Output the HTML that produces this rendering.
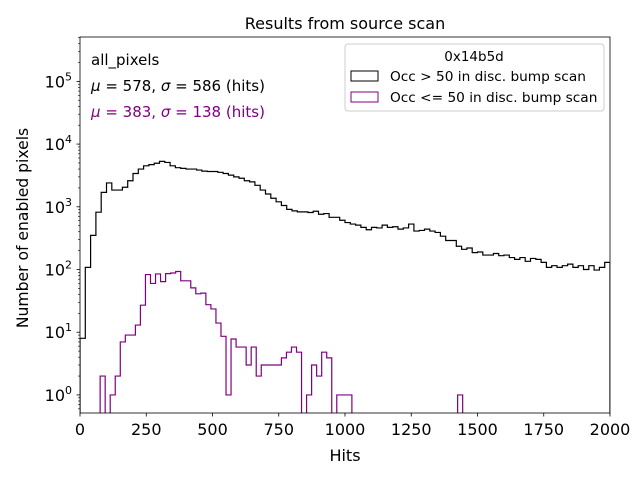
<!DOCTYPE html>
<html><head><meta charset="utf-8"><style>
body{margin:0;background:#fff;}
svg{font-family:"DejaVu Sans","Liberation Sans",sans-serif;}
</style></head><body>
<svg id="chart" width="640" height="480" xmlns="http://www.w3.org/2000/svg">
<defs><clipPath id="plotclip"><rect x="80" y="37" width="530" height="376"/></clipPath></defs>
<text x="345" y="29" text-anchor="middle" font-size="16">Results from source scan</text>
<g id="series" clip-path="url(#plotclip)"></g>
<g id="axes"></g>
<text x="345" y="461" text-anchor="middle" font-size="16">Hits</text>
<text transform="translate(28,228) rotate(-90)" text-anchor="middle" font-size="15.6">Number of enabled pixels</text>
<text x="91" y="65" font-size="15">all_pixels</text>
<text x="91" y="91" font-size="15"><tspan font-style="italic">μ</tspan> = 578, <tspan font-style="italic">σ</tspan> = 586 (hits)</text>
<text x="91" y="117" font-size="15" fill="#800080"><tspan font-style="italic">μ</tspan> = 383, <tspan font-style="italic">σ</tspan> = 138 (hits)</text>
<g>
<rect x="345" y="44" width="259" height="67" rx="3" fill="#fff" stroke="#ccc"/>
<text x="474" y="61" text-anchor="middle" font-size="13.5">0x14b5d</text>
<rect x="351" y="71" width="27" height="10" fill="none" stroke="#000"/>
<text x="390" y="81" font-size="13.7">Occ &gt; 50 in disc. bump scan</text>
<rect x="351" y="92" width="27" height="10" fill="none" stroke="#800080"/>
<text x="390" y="102" font-size="13.7">Occ &lt;= 50 in disc. bump scan</text>
</g>
</svg>
<script>
const xTicks = [0,250,500,750,1000,1250,1500,1750,2000];
const yTickExps = [0,1,2,3,4,5];
const binWidthHigh = 20;
const countsHigh = [8,108,350,820,1700,2400,1850,1850,2050,2600,3400,4000,4500,4700,4950,5300,5100,4500,4200,4100,4000,4000,3850,3700,3650,3650,3550,3400,3200,3000,2850,2600,2500,2200,1850,1600,1370,1200,1050,910,860,830,830,810,850,760,780,680,680,610,560,530,510,470,430,470,460,510,470,480,440,460,530,410,420,440,410,390,340,290,290,235,210,220,186,190,170,170,180,166,170,155,145,155,135,150,145,130,108,115,108,115,122,108,115,100,115,98,108,130];
const binWidthLow = 19;
const countsLow = [0,0,0,0,2,0,1,2,7,9,9,13,27,83,60,85,64,86,88,93,66,66,51,41,42,27.5,23.5,14,8.6,1,7.8,5.8,5.8,3,5.8,2,3,3,3,3,3.9,4.8,5.8,4.8,0,1,3,2,4.8,3.9,0,1,1,1,0,0,0,0,0,0,0,0,0,0,0,0,0,0,0,0,0,0,0,0,0,1,0];
const X0=80,X1=610,Y0=37,Y1=413, yMin=Math.log10(0.515), yMax=Math.log10(510000);
const xs=v=>X0+(v/2000)*(X1-X0);
const ys=v=>{ if(v<=0) return Y1+20; return Y1-(Math.log10(v)-yMin)/(yMax-yMin)*(Y1-Y0); };
const NS="http://www.w3.org/2000/svg";
function stepPath(counts,w){
  let d="M"+xs(0)+","+(Y1+20);
  counts.forEach((c,i)=>{const y=ys(c);d+=" L"+xs(i*w)+","+y+" L"+xs((i+1)*w)+","+y;});
  d+=" L"+xs(counts.length*w)+","+(Y1+20);
  return d;
}
const sg=document.getElementById("series");
const p1=document.createElementNS(NS,"path");
p1.setAttribute("d",stepPath(countsHigh,binWidthHigh));
p1.setAttribute("fill","none");p1.setAttribute("stroke","#000");p1.setAttribute("stroke-width","1.2");


sg.appendChild(p1);
const p2=document.createElementNS(NS,"path");
p2.setAttribute("d",stepPath(countsLow,binWidthLow));
p2.setAttribute("fill","none");p2.setAttribute("stroke","#800080");p2.setAttribute("stroke-width","1.2");


sg.appendChild(p2);
const ax=document.getElementById("axes");
function line(x1,y1,x2,y2,w){const l=document.createElementNS(NS,"line");l.setAttribute("x1",x1);l.setAttribute("y1",y1);l.setAttribute("x2",x2);l.setAttribute("y2",y2);l.setAttribute("stroke","#000");l.setAttribute("stroke-width",w||0.8);ax.appendChild(l);return l;}
const frame=document.createElementNS(NS,"rect");
frame.setAttribute("x",X0);frame.setAttribute("y",Y0);frame.setAttribute("width",X1-X0);frame.setAttribute("height",Y1-Y0);
frame.setAttribute("fill","none");frame.setAttribute("stroke","#000");frame.setAttribute("stroke-width","0.8");


ax.appendChild(frame);
xTicks.forEach(t=>{
  const tk=line(xs(t),Y1,xs(t),Y1+3.5);
  
  
  const tx=document.createElementNS(NS,"text");
  tx.setAttribute("x",xs(t));tx.setAttribute("y",Y1+22);tx.setAttribute("text-anchor","middle");tx.setAttribute("font-size","16");
  tx.textContent=t;
  
  
  ax.appendChild(tx);
});
yTickExps.forEach(e=>{
  const y=ys(Math.pow(10,e));
  const tk=line(X0-3.5,y,X0,y);
  
  
  const tx=document.createElementNS(NS,"text");
  tx.setAttribute("x",X0-8);tx.setAttribute("y",y+6);tx.setAttribute("text-anchor","end");tx.setAttribute("font-size","16");
  tx.innerHTML='10<tspan dy="-7" font-size="11">'+e+'</tspan>';
  
  
  ax.appendChild(tx);
});
for(let e=-1;e<=5;e++){for(let m=2;m<=9;m++){const v=m*Math.pow(10,e);const y=ys(v);if(y<Y0||y>Y1)continue;
  const mt=line(X0-2,y,X0,y,0.6);
  
  
}}
</script>
</body></html>
